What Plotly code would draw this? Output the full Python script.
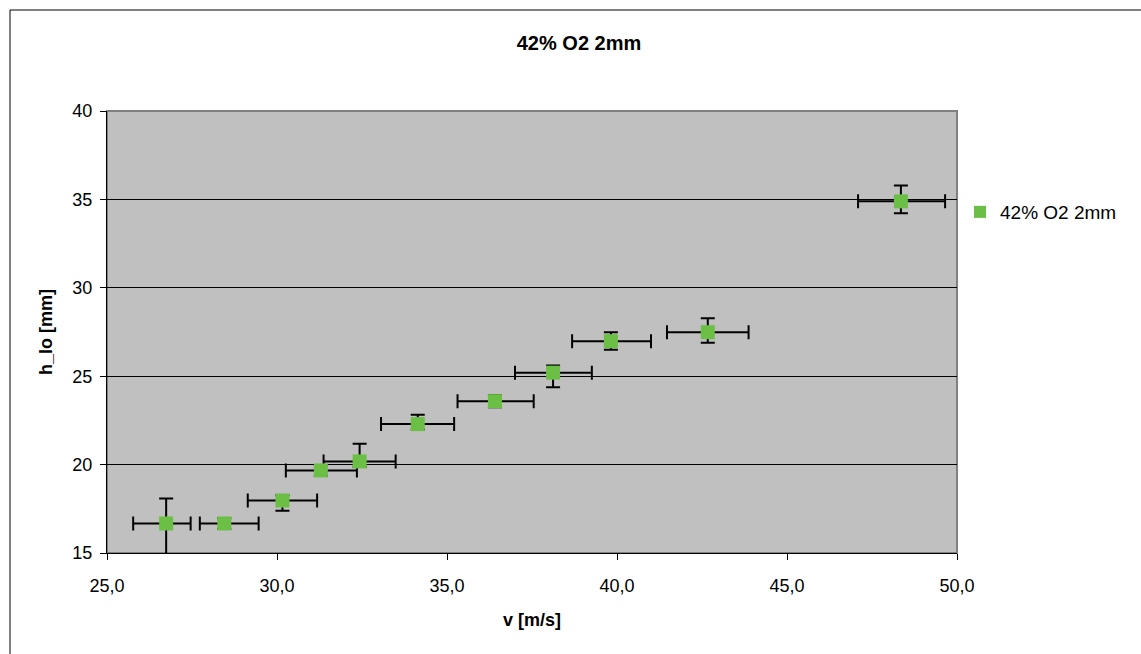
import plotly.graph_objects as go

series_name = "42% O2 2mm"
v = [26.74, 28.45, 30.16, 31.29, 32.43, 34.14, 36.41, 38.12, 39.82, 42.67, 48.35]
h = [16.67, 16.67, 17.97, 19.67, 20.18, 22.29, 23.59, 25.20, 26.98, 27.49, 34.89]
v_err_minus = [0.97, 0.72, 1.02, 1.03, 1.06, 1.08, 1.10, 1.12, 1.14, 1.20, 1.26]
v_err_plus = [0.72, 1.01, 1.02, 1.06, 1.06, 1.07, 1.14, 1.14, 1.18, 1.20, 1.30]
h_err_plus = [1.41, 0.30, 0.30, 0.30, 1.00, 0.53, 0.35, 0.40, 0.51, 0.79, 0.90]
h_err_minus = [1.79, 0.30, 0.58, 0.30, 0.30, 0.30, 0.35, 0.83, 0.49, 0.60, 0.68]
x_ticks = [25, 30, 35, 40, 45, 50]
y_ticks = [15, 20, 25, 30, 35, 40]

FONT = "Liberation Sans, Arial, sans-serif"
GREEN = "#6BBF45"
FS = 18

fig = go.Figure()
fig.add_trace(go.Scatter(
    x=v, y=h, mode="markers", name=series_name,
    marker=dict(symbol="square", size=14, color=GREEN, line=dict(width=0)),
    error_x=dict(type="data", symmetric=False, array=v_err_plus, arrayminus=v_err_minus,
                 color="black", thickness=2, width=7),
    error_y=dict(type="data", symmetric=False, array=h_err_plus, arrayminus=h_err_minus,
                 color="black", thickness=2, width=7),
    cliponaxis=False,
))

W, H = 1141, 654
L, R, T, B = 107, 184, 111, 101
pw, ph = W - L - R, H - T - B

fig.update_layout(
    width=W, height=H,
    margin=dict(l=L, r=R, t=T, b=B, pad=0),
    paper_bgcolor="white", plot_bgcolor="#C0C0C0",
    separators=", ",
    font=dict(family=FONT, size=FS, color="black"),
    title=dict(text="<b>42% O2 2mm</b>", x=579 / W, xref="container", y=1 - 43 / H,
               yref="container", xanchor="center", yanchor="middle",
               font=dict(family=FONT, size=20, color="black")),
    showlegend=True,
    legend=dict(x=(960 - L) / pw, y=(T + ph - 212) / ph, xanchor="left", yanchor="middle",
                bgcolor="rgba(0,0,0,0)", font=dict(family=FONT, size=19),
                itemsizing="constant", itemwidth=30, tracegroupgap=0),
    xaxis=dict(range=[25, 50], tickvals=x_ticks, tickformat=".1f",
               showgrid=False, zeroline=False, showline=True, linecolor="black", linewidth=1,
               ticks="outside", ticklen=6, tickcolor="black", ticklabelstandoff=10,
               title=dict(text="<b>v [m/s]</b>", standoff=18, font=dict(size=FS))),
    yaxis=dict(range=[15, 40], tickvals=y_ticks,
               showgrid=True, gridcolor="black", gridwidth=1, zeroline=False,
               showline=True, linecolor="black", linewidth=1,
               ticks="outside", ticklen=6, tickcolor="black", ticklabelstandoff=4,
               title=dict(text="<b>h_lo [mm]</b>", standoff=15, font=dict(size=FS))),
    shapes=[
        dict(type="rect", xref="paper", yref="paper", x0=0, x1=1, y0=0, y1=1,
             line=dict(color="#808080", width=2), layer="below"),
        dict(type="rect", xref="paper", yref="paper",
             x0=(10 - L) / pw, x1=(W + 20 - L) / pw,
             y0=-(B + 20) / ph, y1=(ph + T - 10) / ph,
             line=dict(color="black", width=1), fillcolor="rgba(0,0,0,0)", layer="above"),
    ],
)

fig.write_html("out.html")
